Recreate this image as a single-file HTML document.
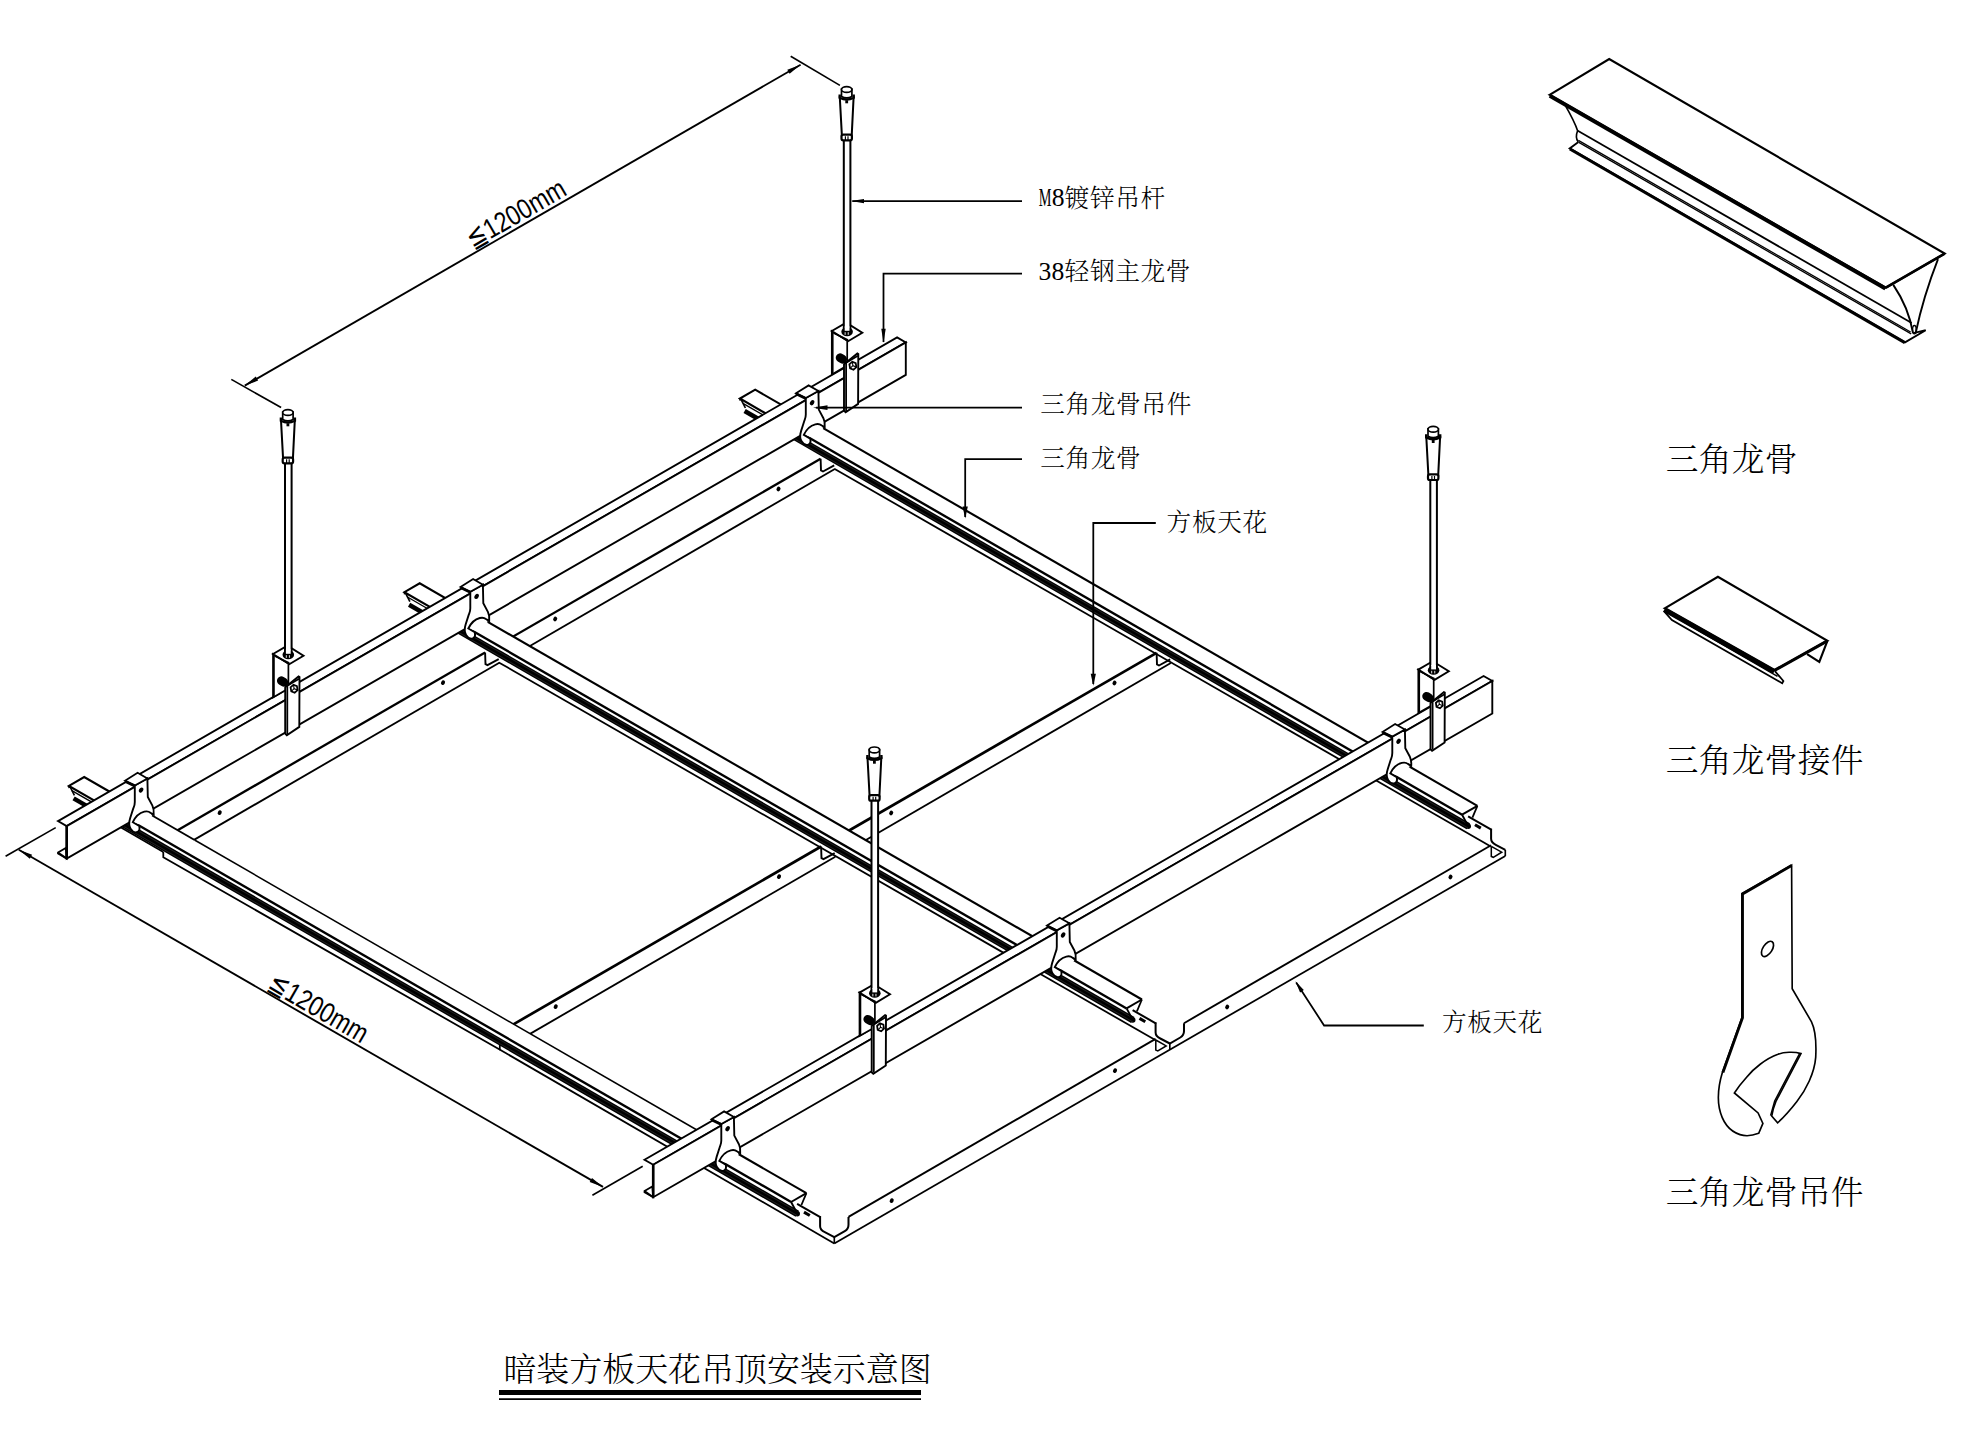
<!DOCTYPE html>
<html><head><meta charset="utf-8"><title>暗装方板天花吊顶安装示意图</title>
<style>html,body{margin:0;padding:0;background:#fff}svg{display:block}</style></head>
<body>
<svg width="1967" height="1432" viewBox="0 0 1967 1432" fill="none" stroke="#000" stroke-width="1.89" stroke-linecap="butt" stroke-linejoin="miter">
<rect x="0" y="0" width="1967" height="1432" fill="#fff" stroke="none"/>
<line x1="165.5" y1="837.2" x2="485.1" y2="652.5" stroke-width="2.3"/>
<polyline points="485.1,652.5 485.5,664.1 487.5,665.2 498.7,659.1" stroke-width="1.89"/>
<line x1="182.8" y1="846.4" x2="499.3" y2="662.7" stroke-width="1.83"/>
<ellipse cx="219.7" cy="812.7" rx="1.9" ry="2.4" transform="rotate(30 219.7 812.7)" fill="#000" stroke="none"/>
<ellipse cx="443" cy="682.7" rx="1.9" ry="2.4" transform="rotate(30 443 682.7)" fill="#000" stroke="none"/>
<line x1="501" y1="643.5" x2="820.6" y2="458.8" stroke-width="2.3"/>
<polyline points="820.6,458.8 821,470.4 823,471.5 834.2,465.4" stroke-width="1.89"/>
<line x1="518.3" y1="652.7" x2="834.8" y2="469" stroke-width="1.83"/>
<ellipse cx="555.2" cy="619" rx="1.9" ry="2.4" transform="rotate(30 555.2 619)" fill="#000" stroke="none"/>
<ellipse cx="778.5" cy="489" rx="1.9" ry="2.4" transform="rotate(30 778.5 489)" fill="#000" stroke="none"/>
<line x1="501.5" y1="1031.2" x2="821.1" y2="846.5" stroke-width="2.71"/>
<polyline points="821.1,846.5 821.5,858.1 823.5,859.2 834.7,853.1" stroke-width="1.89"/>
<line x1="518.8" y1="1040.4" x2="835.3" y2="856.7" stroke-width="1.83"/>
<ellipse cx="555.7" cy="1006.7" rx="1.9" ry="2.4" transform="rotate(30 555.7 1006.7)" fill="#000" stroke="none"/>
<ellipse cx="779" cy="876.7" rx="1.9" ry="2.4" transform="rotate(30 779 876.7)" fill="#000" stroke="none"/>
<line x1="837" y1="837.5" x2="1156.6" y2="652.8" stroke-width="2.71"/>
<polyline points="1156.6,652.8 1157,664.4 1159,665.5 1170.2,659.4" stroke-width="1.89"/>
<line x1="854.3" y1="846.7" x2="1170.8" y2="663" stroke-width="1.83"/>
<ellipse cx="891.2" cy="813" rx="1.9" ry="2.4" transform="rotate(30 891.2 813)" fill="#000" stroke="none"/>
<ellipse cx="1114.5" cy="683" rx="1.9" ry="2.4" transform="rotate(30 1114.5 683)" fill="#000" stroke="none"/>
<ellipse cx="891.7" cy="1200.7" rx="1.9" ry="2.4" transform="rotate(30 891.7 1200.7)" fill="#000" stroke="none"/>
<ellipse cx="1115" cy="1070.7" rx="1.9" ry="2.4" transform="rotate(30 1115 1070.7)" fill="#000" stroke="none"/>
<ellipse cx="1227.2" cy="1007" rx="1.9" ry="2.4" transform="rotate(30 1227.2 1007)" fill="#000" stroke="none"/>
<ellipse cx="1450.5" cy="877" rx="1.9" ry="2.4" transform="rotate(30 1450.5 877)" fill="#000" stroke="none"/>
<line x1="834.3" y1="1243.4" x2="1505.3" y2="856" stroke-width="1.77"/>
<line x1="834.3" y1="1237.2" x2="834.3" y2="1243.4" stroke-width="1.65"/>
<path d="M820.1 1216.2 L820.1 1226.2 Q820.1 1230 824.8 1232.2 L834.3 1237.2 L844.8 1231.2 Q848.5 1229 848.5 1224.7 L848.5 1216.9" stroke-width="2.01"/>
<line x1="1169.8" y1="1043.5" x2="1169.8" y2="1049.7" stroke-width="1.65"/>
<path d="M1155.6 1022.5 L1155.6 1032.5 Q1155.6 1036.3 1160.3 1038.5 L1169.8 1043.5 L1180.3 1037.5 Q1184 1035.3 1184 1031 L1184 1023.2" stroke-width="2.01"/>
<line x1="848.5" y1="1216.9" x2="1155.6" y2="1038.9" stroke-width="1.89"/>
<polyline points="1155.8,1040 1155.8,1050.1 1157.8,1051 1166.2,1045.9 1155.8,1040" stroke-width="1.53"/>
<line x1="1505.3" y1="849.8" x2="1505.3" y2="856" stroke-width="1.65"/>
<path d="M1491.1 828.8 L1491.1 838.8 Q1491.1 842.6 1495.8 844.8 L1505.3 849.8" stroke-width="2.01"/>
<line x1="1184" y1="1023.2" x2="1491.1" y2="845.2" stroke-width="1.89"/>
<polyline points="1491.3,846.3 1491.3,856.4 1493.3,857.3 1501.7,852.2 1491.3,846.3" stroke-width="1.53"/>
<polygon points="126.1,818.9 68.9,785.9 84.2,777 141.4,810 111.9,827" stroke-width="0.01" fill="#fff"/>
<line x1="69.9" y1="786.5" x2="74.4" y2="795.4" stroke-width="1.65"/>
<line x1="73.6" y1="798.4" x2="99.6" y2="813.4" stroke-width="4.48"/>
<line x1="71.9" y1="790.7" x2="106.5" y2="810.7" stroke-width="1.42"/>
<polyline points="126.1,818.9 68.9,785.9 84.2,777 141.4,810" stroke-width="2.12"/>
<line x1="68.9" y1="785.9" x2="69.2" y2="788.1" stroke-width="1.65"/>
<polygon points="123.6,799 806.4,1193.2 791.1,1202 798.6,1218.2 123.6,828.5" stroke-width="0.01" fill="#fff"/>
<line x1="112.8" y1="822.7" x2="163.3" y2="852.1" stroke-width="1.77"/>
<polyline points="163.3,852.1 163.3,857.3 499.6,1049.5" stroke-width="1.77"/>
<line x1="499.8" y1="1044.4" x2="499.8" y2="1050.3" stroke-width="1.77"/>
<line x1="499.6" y1="1049.5" x2="834.3" y2="1243.4" stroke-width="1.77"/>
<line x1="121.9" y1="823.3" x2="797.3" y2="1213.7" stroke-width="6.84"/>
<circle cx="797.3" cy="1213.7" r="2.7" fill="#000" stroke="none"/>
<line x1="121.9" y1="821.3" x2="797.3" y2="1211.7" stroke-width="0.41" stroke="#555"/>
<line x1="121.9" y1="825.3" x2="797.3" y2="1215.6" stroke-width="0.41" stroke="#555"/>
<line x1="149.6" y1="814" x2="194.6" y2="840" stroke-width="1.95"/>
<line x1="194.6" y1="840" x2="728.1" y2="1148" stroke-width="1.53"/>
<line x1="728.1" y1="1148" x2="806.4" y2="1193.2" stroke-width="2.06"/>
<line x1="132.5" y1="821.8" x2="791.1" y2="1202" stroke-width="2.36"/>
<line x1="806.4" y1="1193.2" x2="791.1" y2="1202" stroke-width="2.01"/>
<line x1="806.4" y1="1193.2" x2="801.4" y2="1205" stroke-width="1.77"/>
<line x1="791.1" y1="1202" x2="797.6" y2="1214.2" stroke-width="1.89"/>
<line x1="797.1" y1="1203.8" x2="820.7" y2="1217.3" stroke-width="2.01"/>
<line x1="804" y1="1212.1" x2="809.8" y2="1215.5" stroke-width="3.07"/>
<polygon points="461.5,625.2 404.4,592.2 419.7,583.3 476.9,616.3 447.4,633.3" stroke-width="0.01" fill="#fff"/>
<line x1="405.4" y1="592.8" x2="409.9" y2="601.7" stroke-width="1.65"/>
<line x1="409.1" y1="604.7" x2="435.1" y2="619.7" stroke-width="4.48"/>
<line x1="407.4" y1="597" x2="442" y2="617" stroke-width="1.42"/>
<polyline points="461.5,625.2 404.4,592.2 419.7,583.3 476.9,616.3" stroke-width="2.12"/>
<line x1="404.4" y1="592.2" x2="404.7" y2="594.4" stroke-width="1.65"/>
<polygon points="459.1,605.3 1141.9,999.5 1126.6,1008.4 1134.1,1024.5 459.1,634.8" stroke-width="0.01" fill="#fff"/>
<line x1="498.8" y1="662.4" x2="1155.3" y2="1040.1" stroke-width="1.77"/>
<line x1="457.4" y1="629.6" x2="1132.8" y2="1020" stroke-width="6.84"/>
<circle cx="1132.8" cy="1020" r="2.7" fill="#000" stroke="none"/>
<line x1="457.4" y1="627.6" x2="1132.8" y2="1018" stroke-width="0.41" stroke="#555"/>
<line x1="457.4" y1="631.6" x2="1132.8" y2="1021.9" stroke-width="0.41" stroke="#555"/>
<line x1="485.1" y1="620.3" x2="1141.9" y2="999.5" stroke-width="2.12"/>
<line x1="468" y1="628.2" x2="1126.6" y2="1008.4" stroke-width="2.36"/>
<line x1="1141.9" y1="999.5" x2="1126.6" y2="1008.4" stroke-width="2.01"/>
<line x1="1141.9" y1="999.5" x2="1136.9" y2="1011.3" stroke-width="1.77"/>
<line x1="1126.6" y1="1008.4" x2="1133.1" y2="1020.6" stroke-width="1.89"/>
<line x1="1132.6" y1="1010.1" x2="1156.2" y2="1023.6" stroke-width="2.01"/>
<line x1="1139.5" y1="1018.4" x2="1145.3" y2="1021.8" stroke-width="3.07"/>
<polygon points="797,431.5 739.9,398.5 755.2,389.7 812.4,422.7 782.9,439.7" stroke-width="0.01" fill="#fff"/>
<line x1="740.9" y1="399.1" x2="745.4" y2="408" stroke-width="1.65"/>
<line x1="744.6" y1="411" x2="770.6" y2="426" stroke-width="4.48"/>
<line x1="742.9" y1="403.3" x2="777.5" y2="423.3" stroke-width="1.42"/>
<polyline points="797,431.5 739.9,398.5 755.2,389.7 812.4,422.7" stroke-width="2.12"/>
<line x1="739.9" y1="398.5" x2="740.2" y2="400.7" stroke-width="1.65"/>
<polygon points="794.6,411.6 1477.4,805.8 1462.1,814.7 1469.6,830.8 794.6,441.1" stroke-width="0.01" fill="#fff"/>
<line x1="834.3" y1="468.7" x2="1490.8" y2="846.4" stroke-width="1.77"/>
<line x1="792.9" y1="435.9" x2="1468.3" y2="826.3" stroke-width="6.84"/>
<circle cx="1468.3" cy="826.3" r="2.7" fill="#000" stroke="none"/>
<line x1="792.9" y1="433.9" x2="1468.3" y2="824.3" stroke-width="0.41" stroke="#555"/>
<line x1="792.9" y1="437.9" x2="1468.3" y2="828.2" stroke-width="0.41" stroke="#555"/>
<line x1="820.6" y1="426.6" x2="1477.4" y2="805.8" stroke-width="2.12"/>
<line x1="803.5" y1="434.5" x2="1462.1" y2="814.7" stroke-width="2.36"/>
<line x1="1477.4" y1="805.8" x2="1462.1" y2="814.7" stroke-width="2.01"/>
<line x1="1477.4" y1="805.8" x2="1472.4" y2="817.6" stroke-width="1.77"/>
<line x1="1462.1" y1="814.7" x2="1468.6" y2="826.9" stroke-width="1.89"/>
<line x1="1468.1" y1="816.4" x2="1491.7" y2="829.9" stroke-width="2.01"/>
<line x1="1475" y1="824.7" x2="1480.8" y2="828.1" stroke-width="3.07"/>
<polygon points="58,852.4 65.8,847.9 66.7,858.6 58,853.6" stroke-width="1.77" fill="#fff"/>
<polygon points="58,821.1 897.1,337.4 905.8,342.4 66.7,826.1" stroke-width="1.89" fill="#fff"/>
<polygon points="66.7,826.1 905.8,342.4 905.8,374.9 66.7,858.6" stroke-width="1.89" fill="#fff"/>
<line x1="66.7" y1="826.1" x2="66.7" y2="858.6" stroke-width="2.6"/>
<line x1="58" y1="852.4" x2="66.7" y2="858.6" stroke-width="1.89"/>
<path d="M132.8 822.2 C135.3 816.9 139.3 813 144.3 811.7 C147.3 811 149.1 811.6 150.4 812.7 L152.3 815.9 L138.8 824.2 Z" fill="#fff" stroke="none"/>
<path d="M134.8 785.4 L134.8 801.9 C134.8 805.4 134 806.4 133.2 808.6 L130.2 818 C128.6 822.9 128.8 825.9 130.6 828.7 C132.4 831.6 135.4 832.8 137.4 832 C139.4 831.2 140 829.2 139.2 826 L132.8 822.2 C135.3 816.9 139.3 813 144.3 811.7 C147.3 811 149.1 811.6 150.4 812.7 L153.7 814.6 C154 810.9 153.7 808.2 152.4 805.6 L147.8 797 L147.4 778.4 Z" stroke-width="1.89" fill="#fff"/>
<polygon points="125,780.7 137.6,772.8 147.4,778.4 134.8,785.4" stroke-width="1.77" fill="#fff"/>
<line x1="125" y1="781.2" x2="134.8" y2="786" stroke-width="2.83"/>
<ellipse cx="141.1" cy="790.1" rx="2" ry="2.8" transform="rotate(30 141.1 790.1)" fill="#000" stroke="none"/>
<path d="M468.3 628.5 C470.8 623.2 474.8 619.3 479.8 618 C482.8 617.3 484.6 617.9 485.9 619 L487.8 622.2 L474.3 630.5 Z" fill="#fff" stroke="none"/>
<path d="M470.3 591.7 L470.3 608.2 C470.3 611.7 469.5 612.7 468.7 614.9 L465.7 624.3 C464.1 629.2 464.3 632.2 466.1 635 C467.9 637.9 470.9 639.1 472.9 638.3 C474.9 637.5 475.5 635.5 474.7 632.3 L468.3 628.5 C470.8 623.2 474.8 619.3 479.8 618 C482.8 617.3 484.6 617.9 485.9 619 L489.2 620.9 C489.5 617.2 489.2 614.5 487.9 611.9 L483.3 603.3 L482.9 584.7 Z" stroke-width="1.89" fill="#fff"/>
<polygon points="460.5,587 473.1,579.1 482.9,584.7 470.3,591.7" stroke-width="1.77" fill="#fff"/>
<line x1="460.5" y1="587.5" x2="470.3" y2="592.3" stroke-width="2.83"/>
<ellipse cx="476.6" cy="596.4" rx="2" ry="2.8" transform="rotate(30 476.6 596.4)" fill="#000" stroke="none"/>
<path d="M803.8 434.8 C806.3 429.5 810.3 425.6 815.3 424.3 C818.3 423.6 820.1 424.2 821.4 425.3 L823.3 428.5 L809.8 436.8 Z" fill="#fff" stroke="none"/>
<path d="M805.8 398 L805.8 414.5 C805.8 418 805 419 804.2 421.2 L801.2 430.6 C799.6 435.5 799.8 438.5 801.6 441.3 C803.4 444.2 806.4 445.4 808.4 444.6 C810.4 443.8 811 441.8 810.2 438.6 L803.8 434.8 C806.3 429.5 810.3 425.6 815.3 424.3 C818.3 423.6 820.1 424.2 821.4 425.3 L824.7 427.2 C825 423.5 824.7 420.8 823.4 418.2 L818.8 409.6 L818.4 391 Z" stroke-width="1.89" fill="#fff"/>
<polygon points="796,393.3 808.6,385.4 818.4,391 805.8,398" stroke-width="1.77" fill="#fff"/>
<line x1="796" y1="393.8" x2="805.8" y2="398.6" stroke-width="2.83"/>
<ellipse cx="812.1" cy="402.7" rx="2" ry="2.8" transform="rotate(30 812.1 402.7)" fill="#000" stroke="none"/>
<polygon points="831.8,331 847.2,340.6 847.2,365.6 831.8,374.5" stroke-width="1.71" fill="#fff"/>
<line x1="832.7" y1="332.2" x2="832.7" y2="374" stroke-width="1.77"/>
<polygon points="831.8,331 846.2,322.7 862.3,332.7 848.1,341.2" stroke-width="1.89" fill="#fff"/>
<line x1="833.5" y1="333" x2="848.1" y2="340" stroke-width="1.53"/>
<rect x="843.8" y="138.3" width="6.6" height="193.7" fill="#fff" stroke="none"/>
<line x1="843.8" y1="138.3" x2="843.8" y2="330.5" stroke-width="2.01"/>
<line x1="850.4" y1="138.3" x2="850.4" y2="330.5" stroke-width="2.01"/>
<ellipse cx="847.1" cy="331.7" rx="5.8" ry="4.5" fill="#000" stroke="none"/>
<rect x="844.7" y="326.4" width="4.8" height="4.4" fill="#fff" stroke="none"/>
<rect x="844.6" y="332.2" width="1.1" height="2.6" fill="#ccc" stroke="none"/>
<rect x="847.7" y="332.2" width="1.1" height="2.6" fill="#ccc" stroke="none"/>
<line x1="840.1" y1="357.7" x2="842.7" y2="359.3" stroke-width="8.73" stroke-linecap="round"/>
<polygon points="844,364.3 857.4,353.5 858.3,354 858.1,403.9 845.6,412.2 844,410.7" stroke-width="1.89" fill="#fff"/>
<polyline points="857.9,355.7 846.1,362.8 846.1,410.9" stroke-width="1.77"/>
<polygon points="856.4,367.1 853.5,369.7 850.1,368.3 849.4,364.3 852.3,361.7 855.7,363.1" stroke-width="1.77" fill="#fff"/>
<polyline points="856.4,367.1 852.9,365.7 850.1,368.3" stroke-width="1.06"/>
<line x1="852.9" y1="365.7" x2="852.3" y2="361.7" stroke-width="1.06"/>
<path d="M839.8 97.3 L853.6 97.3 L851.7 135.9 L841.9 135.9 Z" stroke-width="2.01" fill="#fff"/>
<path d="M839.7 94.5 L839.7 97.7 Q846.7 101.3 853.7 97.7 L853.7 94.5" fill="#fff" stroke="#000" stroke-width="2.4"/>
<rect x="845.3" y="100.3" width="2.8" height="3" fill="#000" stroke="none"/>
<path d="M841.5 89.2 L841.5 96.5 Q846.7 99.3 851.9 96.5 L851.9 89.2 Z" fill="#fff" stroke="#000" stroke-width="1.7"/>
<ellipse cx="846.7" cy="89.5" rx="5.2" ry="2.9" fill="#fff" stroke="#000" stroke-width="1.7"/>
<rect x="841.5" y="134.7" width="10.4" height="5.6" rx="1.8" fill="#fff" stroke="#000" stroke-width="2.2"/>
<line x1="845.4" y1="136.3" x2="845.4" y2="140.3" stroke-width="1.18"/>
<line x1="848" y1="136.3" x2="848" y2="140.3" stroke-width="1.18"/>
<polygon points="273,654 288.4,663.6 288.4,688.6 273,697.5" stroke-width="1.71" fill="#fff"/>
<line x1="273.9" y1="655.2" x2="273.9" y2="697" stroke-width="1.77"/>
<polygon points="273,654 287.4,645.7 303.5,655.7 289.3,664.2" stroke-width="1.89" fill="#fff"/>
<line x1="274.7" y1="656" x2="289.3" y2="663" stroke-width="1.53"/>
<rect x="285" y="461.3" width="6.6" height="193.7" fill="#fff" stroke="none"/>
<line x1="285" y1="461.3" x2="285" y2="653.5" stroke-width="2.01"/>
<line x1="291.6" y1="461.3" x2="291.6" y2="653.5" stroke-width="2.01"/>
<ellipse cx="288.3" cy="654.7" rx="5.8" ry="4.5" fill="#000" stroke="none"/>
<rect x="285.9" y="649.4" width="4.8" height="4.4" fill="#fff" stroke="none"/>
<rect x="285.8" y="655.2" width="1.1" height="2.6" fill="#ccc" stroke="none"/>
<rect x="288.9" y="655.2" width="1.1" height="2.6" fill="#ccc" stroke="none"/>
<line x1="281.3" y1="680.7" x2="283.9" y2="682.3" stroke-width="8.73" stroke-linecap="round"/>
<polygon points="285.2,687.3 298.6,676.5 299.5,677 299.3,726.9 286.8,735.2 285.2,733.7" stroke-width="1.89" fill="#fff"/>
<polyline points="299.1,678.7 287.3,685.8 287.3,733.9" stroke-width="1.77"/>
<polygon points="297.6,690.1 294.7,692.7 291.3,691.3 290.6,687.3 293.5,684.7 296.9,686.1" stroke-width="1.77" fill="#fff"/>
<polyline points="297.6,690.1 294.1,688.7 291.3,691.3" stroke-width="1.06"/>
<line x1="294.1" y1="688.7" x2="293.5" y2="684.7" stroke-width="1.06"/>
<path d="M281 420.3 L294.8 420.3 L292.9 458.9 L283.1 458.9 Z" stroke-width="2.01" fill="#fff"/>
<path d="M280.9 417.5 L280.9 420.7 Q287.9 424.3 294.9 420.7 L294.9 417.5" fill="#fff" stroke="#000" stroke-width="2.4"/>
<rect x="286.5" y="423.3" width="2.8" height="3" fill="#000" stroke="none"/>
<path d="M282.7 412.2 L282.7 419.5 Q287.9 422.3 293.1 419.5 L293.1 412.2 Z" fill="#fff" stroke="#000" stroke-width="1.7"/>
<ellipse cx="287.9" cy="412.5" rx="5.2" ry="2.9" fill="#fff" stroke="#000" stroke-width="1.7"/>
<rect x="282.7" y="457.7" width="10.4" height="5.6" rx="1.8" fill="#fff" stroke="#000" stroke-width="2.2"/>
<line x1="286.6" y1="459.3" x2="286.6" y2="463.3" stroke-width="1.18"/>
<line x1="289.2" y1="459.3" x2="289.2" y2="463.3" stroke-width="1.18"/>
<polygon points="644.5,1191 652.3,1186.5 653.2,1197.2 644.5,1192.2" stroke-width="1.77" fill="#fff"/>
<polygon points="644.5,1159.7 1483.6,676 1492.3,681 653.2,1164.7" stroke-width="1.89" fill="#fff"/>
<polygon points="653.2,1164.7 1492.3,681 1492.3,713.5 653.2,1197.2" stroke-width="1.89" fill="#fff"/>
<line x1="653.2" y1="1164.7" x2="653.2" y2="1197.2" stroke-width="2.6"/>
<line x1="644.5" y1="1191" x2="653.2" y2="1197.2" stroke-width="1.89"/>
<path d="M719.3 1160.8 C721.8 1155.5 725.8 1151.6 730.8 1150.3 C733.8 1149.6 735.6 1150.2 736.9 1151.3 L738.8 1154.5 L725.3 1162.8 Z" fill="#fff" stroke="none"/>
<path d="M721.3 1124 L721.3 1140.5 C721.3 1144 720.5 1145 719.7 1147.2 L716.7 1156.6 C715.1 1161.5 715.3 1164.5 717.1 1167.3 C718.9 1170.2 721.9 1171.4 723.9 1170.6 C725.9 1169.8 726.5 1167.8 725.7 1164.6 L719.3 1160.8 C721.8 1155.5 725.8 1151.6 730.8 1150.3 C733.8 1149.6 735.6 1150.2 736.9 1151.3 L740.2 1153.2 C740.5 1149.5 740.2 1146.8 738.9 1144.2 L734.3 1135.6 L733.9 1117 Z" stroke-width="1.89" fill="#fff"/>
<polygon points="711.5,1119.3 724.1,1111.4 733.9,1117 721.3,1124" stroke-width="1.77" fill="#fff"/>
<line x1="711.5" y1="1119.8" x2="721.3" y2="1124.6" stroke-width="2.83"/>
<ellipse cx="727.6" cy="1128.7" rx="2" ry="2.8" transform="rotate(30 727.6 1128.7)" fill="#000" stroke="none"/>
<path d="M1054.8 967.1 C1057.3 961.8 1061.3 957.9 1066.3 956.6 C1069.3 955.9 1071.1 956.5 1072.4 957.6 L1074.3 960.8 L1060.8 969.1 Z" fill="#fff" stroke="none"/>
<path d="M1056.8 930.3 L1056.8 946.8 C1056.8 950.3 1056 951.3 1055.2 953.5 L1052.2 962.9 C1050.6 967.8 1050.8 970.8 1052.6 973.6 C1054.4 976.5 1057.4 977.7 1059.4 976.9 C1061.4 976.1 1062 974.1 1061.2 970.9 L1054.8 967.1 C1057.3 961.8 1061.3 957.9 1066.3 956.6 C1069.3 955.9 1071.1 956.5 1072.4 957.6 L1075.7 959.5 C1076 955.8 1075.7 953.1 1074.4 950.5 L1069.8 941.9 L1069.4 923.3 Z" stroke-width="1.89" fill="#fff"/>
<polygon points="1047,925.6 1059.6,917.7 1069.4,923.3 1056.8,930.3" stroke-width="1.77" fill="#fff"/>
<line x1="1047" y1="926.1" x2="1056.8" y2="930.9" stroke-width="2.83"/>
<ellipse cx="1063.1" cy="935" rx="2" ry="2.8" transform="rotate(30 1063.1 935)" fill="#000" stroke="none"/>
<path d="M1390.3 773.4 C1392.8 768.1 1396.8 764.2 1401.8 762.9 C1404.8 762.2 1406.6 762.8 1407.9 763.9 L1409.8 767.1 L1396.3 775.4 Z" fill="#fff" stroke="none"/>
<path d="M1392.3 736.6 L1392.3 753.1 C1392.3 756.6 1391.5 757.6 1390.7 759.8 L1387.7 769.2 C1386.1 774.1 1386.3 777.1 1388.1 779.9 C1389.9 782.8 1392.9 784 1394.9 783.2 C1396.9 782.4 1397.5 780.4 1396.7 777.2 L1390.3 773.4 C1392.8 768.1 1396.8 764.2 1401.8 762.9 C1404.8 762.2 1406.6 762.8 1407.9 763.9 L1411.2 765.8 C1411.5 762.1 1411.2 759.4 1409.9 756.8 L1405.3 748.2 L1404.9 729.6 Z" stroke-width="1.89" fill="#fff"/>
<polygon points="1382.5,731.9 1395.1,724 1404.9,729.6 1392.3,736.6" stroke-width="1.77" fill="#fff"/>
<line x1="1382.5" y1="732.4" x2="1392.3" y2="737.2" stroke-width="2.83"/>
<ellipse cx="1398.6" cy="741.3" rx="2" ry="2.8" transform="rotate(30 1398.6 741.3)" fill="#000" stroke="none"/>
<polygon points="1418.3,669.6 1433.7,679.2 1433.7,704.2 1418.3,713.1" stroke-width="1.71" fill="#fff"/>
<line x1="1419.2" y1="670.8" x2="1419.2" y2="712.6" stroke-width="1.77"/>
<polygon points="1418.3,669.6 1432.7,661.3 1448.8,671.3 1434.6,679.8" stroke-width="1.89" fill="#fff"/>
<line x1="1420" y1="671.6" x2="1434.6" y2="678.6" stroke-width="1.53"/>
<rect x="1430.3" y="478" width="6.6" height="192.6" fill="#fff" stroke="none"/>
<line x1="1430.3" y1="478" x2="1430.3" y2="669.1" stroke-width="2.01"/>
<line x1="1436.9" y1="478" x2="1436.9" y2="669.1" stroke-width="2.01"/>
<ellipse cx="1433.6" cy="670.3" rx="5.8" ry="4.5" fill="#000" stroke="none"/>
<rect x="1431.2" y="665" width="4.8" height="4.4" fill="#fff" stroke="none"/>
<rect x="1431.1" y="670.8" width="1.1" height="2.6" fill="#ccc" stroke="none"/>
<rect x="1434.2" y="670.8" width="1.1" height="2.6" fill="#ccc" stroke="none"/>
<line x1="1426.6" y1="696.3" x2="1429.2" y2="697.9" stroke-width="8.73" stroke-linecap="round"/>
<polygon points="1430.5,702.9 1443.9,692.1 1444.8,692.6 1444.6,742.5 1432.1,750.8 1430.5,749.3" stroke-width="1.89" fill="#fff"/>
<polyline points="1444.4,694.3 1432.6,701.4 1432.6,749.5" stroke-width="1.77"/>
<polygon points="1442.8,705.7 1440,708.3 1436.5,706.9 1435.9,702.9 1438.7,700.3 1442.2,701.7" stroke-width="1.77" fill="#fff"/>
<polyline points="1442.8,705.7 1439.4,704.3 1436.5,706.9" stroke-width="1.06"/>
<line x1="1439.4" y1="704.3" x2="1438.7" y2="700.3" stroke-width="1.06"/>
<path d="M1426.3 437 L1440.1 437 L1438.2 475.6 L1428.4 475.6 Z" stroke-width="2.01" fill="#fff"/>
<path d="M1426.2 434.2 L1426.2 437.4 Q1433.2 441 1440.2 437.4 L1440.2 434.2" fill="#fff" stroke="#000" stroke-width="2.4"/>
<rect x="1431.8" y="440" width="2.8" height="3" fill="#000" stroke="none"/>
<path d="M1428 428.9 L1428 436.2 Q1433.2 439 1438.4 436.2 L1438.4 428.9 Z" fill="#fff" stroke="#000" stroke-width="1.7"/>
<ellipse cx="1433.2" cy="429.2" rx="5.2" ry="2.9" fill="#fff" stroke="#000" stroke-width="1.7"/>
<rect x="1428" y="474.4" width="10.4" height="5.6" rx="1.8" fill="#fff" stroke="#000" stroke-width="2.2"/>
<line x1="1431.9" y1="476" x2="1431.9" y2="480" stroke-width="1.18"/>
<line x1="1434.5" y1="476" x2="1434.5" y2="480" stroke-width="1.18"/>
<polygon points="859.5,992.6 874.9,1002.2 874.9,1027.2 859.5,1036.1" stroke-width="1.71" fill="#fff"/>
<line x1="860.4" y1="993.8" x2="860.4" y2="1035.6" stroke-width="1.77"/>
<polygon points="859.5,992.6 873.9,984.3 890,994.3 875.8,1002.8" stroke-width="1.89" fill="#fff"/>
<line x1="861.2" y1="994.6" x2="875.8" y2="1001.6" stroke-width="1.53"/>
<rect x="871.5" y="798.7" width="6.6" height="194.9" fill="#fff" stroke="none"/>
<line x1="871.5" y1="798.7" x2="871.5" y2="992.1" stroke-width="2.01"/>
<line x1="878.1" y1="798.7" x2="878.1" y2="992.1" stroke-width="2.01"/>
<ellipse cx="874.8" cy="993.3" rx="5.8" ry="4.5" fill="#000" stroke="none"/>
<rect x="872.4" y="988" width="4.8" height="4.4" fill="#fff" stroke="none"/>
<rect x="872.3" y="993.8" width="1.1" height="2.6" fill="#ccc" stroke="none"/>
<rect x="875.4" y="993.8" width="1.1" height="2.6" fill="#ccc" stroke="none"/>
<line x1="867.8" y1="1019.3" x2="870.4" y2="1020.9" stroke-width="8.73" stroke-linecap="round"/>
<polygon points="871.7,1025.9 885.1,1015.1 886,1015.6 885.8,1065.5 873.3,1073.8 871.7,1072.3" stroke-width="1.89" fill="#fff"/>
<polyline points="885.6,1017.3 873.8,1024.4 873.8,1072.5" stroke-width="1.77"/>
<polygon points="884,1028.7 881.2,1031.3 877.7,1029.9 877.1,1025.9 879.9,1023.3 883.4,1024.7" stroke-width="1.77" fill="#fff"/>
<polyline points="884,1028.7 880.6,1027.3 877.7,1029.9" stroke-width="1.06"/>
<line x1="880.6" y1="1027.3" x2="879.9" y2="1023.3" stroke-width="1.06"/>
<path d="M867.5 757.7 L881.3 757.7 L879.4 796.3 L869.6 796.3 Z" stroke-width="2.01" fill="#fff"/>
<path d="M867.4 754.9 L867.4 758.1 Q874.4 761.7 881.4 758.1 L881.4 754.9" fill="#fff" stroke="#000" stroke-width="2.4"/>
<rect x="873" y="760.7" width="2.8" height="3" fill="#000" stroke="none"/>
<path d="M869.2 749.6 L869.2 756.9 Q874.4 759.7 879.6 756.9 L879.6 749.6 Z" fill="#fff" stroke="#000" stroke-width="1.7"/>
<ellipse cx="874.4" cy="749.9" rx="5.2" ry="2.9" fill="#fff" stroke="#000" stroke-width="1.7"/>
<rect x="869.2" y="795.1" width="10.4" height="5.6" rx="1.8" fill="#fff" stroke="#000" stroke-width="2.2"/>
<line x1="873.1" y1="796.7" x2="873.1" y2="800.7" stroke-width="1.18"/>
<line x1="875.7" y1="796.7" x2="875.7" y2="800.7" stroke-width="1.18"/>
<line x1="244.8" y1="385.6" x2="800.6" y2="64.7" stroke-width="1.89"/>
<polygon points="244.8,385.6 255.8,376.6 258.1,380.6" fill="#000" stroke="none"/>
<polygon points="800.6,64.7 789.6,73.7 787.3,69.7" fill="#000" stroke="none"/>
<line x1="231.3" y1="379.4" x2="281.1" y2="407.5" stroke-width="1.65"/>
<line x1="790.7" y1="56.2" x2="839.9" y2="85.4" stroke-width="1.65"/>
<line x1="18.8" y1="849.8" x2="603" y2="1186.9" stroke-width="1.89"/>
<polygon points="18.8,849.8 32.1,854.8 29.8,858.8" fill="#000" stroke="none"/>
<polygon points="603,1186.9 589.7,1181.9 592,1177.9" fill="#000" stroke="none"/>
<line x1="5.6" y1="856.3" x2="55.7" y2="827.6" stroke-width="1.65"/>
<line x1="592.4" y1="1195.2" x2="642.7" y2="1166.3" stroke-width="1.65"/>
<line x1="852.3" y1="201.1" x2="1022" y2="201.1" stroke-width="1.77"/>
<polygon points="851,201.1 864,198.9 864,203.3" fill="#000" stroke="none"/>
<polyline points="1022,273.7 883.5,273.7 883.5,342" stroke-width="1.77"/>
<polygon points="883.5,342.8 881.3,328.8 885.7,328.8" fill="#000" stroke="none"/>
<line x1="816" y1="407.7" x2="1022" y2="407.7" stroke-width="1.77"/>
<polygon points="813,407.7 827.5,405.3 827.5,410.1" fill="#000" stroke="none"/>
<polyline points="1022,459.2 965.2,459.2 965.2,517" stroke-width="1.77"/>
<polygon points="965.2,518.6 962.6,506.6 967.8,506.6" fill="#000" stroke="none"/>
<polyline points="1155.8,523 1093.3,523 1093.3,684" stroke-width="1.77"/>
<polygon points="1093.3,685.8 1090.7,673.8 1095.9,673.8" fill="#000" stroke="none"/>
<polyline points="1296.2,982.4 1324.1,1025.5 1423.8,1025.5" stroke-width="1.77"/>
<polygon points="1295.4,981.2 1303.8,990.1 1300.1,992.5" fill="#000" stroke="none"/>
<text y="206.6" fill="#000" stroke="none" font-family="'Liberation Serif','Noto Serif CJK SC',serif"><tspan x="1038.8" dy="-0.2" font-size="25.6" font-family="'Liberation Serif',serif" textLength="12.7" lengthAdjust="spacingAndGlyphs">M</tspan><tspan x="1051.7" font-size="25.6" font-family="'Liberation Serif',serif">8</tspan><tspan x="1064.6" dy="0.2" font-size="24.7" font-weight="300" letter-spacing="0.6">镀锌吊杆</tspan></text>
<text y="280.3" fill="#000" stroke="none" font-family="'Liberation Serif','Noto Serif CJK SC',serif"><tspan x="1038.6" dy="-0.2" font-size="25.6" font-family="'Liberation Serif',serif" letter-spacing="0.2">38</tspan><tspan x="1064.6" dy="0.2" font-size="24.7" font-weight="300" letter-spacing="0.6">轻钢主龙骨</tspan></text>
<text x="1040.2" y="413" font-size="24.7" font-weight="300" letter-spacing="0.6" font-family="'Liberation Serif','Noto Serif CJK SC',serif" fill="#000" stroke="none">三角龙骨吊件</text>
<text x="1040.2" y="466.7" font-size="24.7" font-weight="300" letter-spacing="0.6" font-family="'Liberation Serif','Noto Serif CJK SC',serif" fill="#000" stroke="none">三角龙骨</text>
<text x="1166.6" y="530.5" font-size="24.7" font-weight="300" letter-spacing="0.6" font-family="'Liberation Serif','Noto Serif CJK SC',serif" fill="#000" stroke="none">方板天花</text>
<text x="1442" y="1031.3" font-size="24.7" font-weight="300" letter-spacing="0.6" font-family="'Liberation Serif','Noto Serif CJK SC',serif" fill="#000" stroke="none">方板天花</text>
<text x="1665.8" y="470.6" font-size="32.7" font-weight="300" letter-spacing="0.3" font-family="'Liberation Serif','Noto Serif CJK SC',serif" fill="#000" stroke="none">三角龙骨</text>
<text x="1665.8" y="771.7" font-size="32.7" font-weight="300" letter-spacing="0.3" font-family="'Liberation Serif','Noto Serif CJK SC',serif" fill="#000" stroke="none">三角龙骨接件</text>
<text x="1665.8" y="1204.2" font-size="32.7" font-weight="300" letter-spacing="0.3" font-family="'Liberation Serif','Noto Serif CJK SC',serif" fill="#000" stroke="none">三角龙骨吊件</text>
<text x="503.4" y="1380.9" font-size="32.95" font-weight="300" letter-spacing="0" font-family="'Liberation Serif','Noto Serif CJK SC',serif" fill="#000" stroke="none">暗装方板天花吊顶安装示意图</text>
<line x1="499" y1="1392.6" x2="921" y2="1392.6" stroke-width="4.96"/>
<line x1="499" y1="1399.2" x2="921" y2="1399.2" stroke-width="1.77"/>
<text transform="translate(568.4 194.3) rotate(-30) scale(0.832 1)" text-anchor="end" font-size="28" font-family="'Liberation Sans','DejaVu Sans',sans-serif" fill="#000" stroke="none"><tspan font-family="'DejaVu Sans',sans-serif">≦</tspan>1200mm</text>
<text transform="translate(361.5 1043.6) rotate(30) scale(0.832 1)" text-anchor="end" font-size="28" font-family="'Liberation Sans','DejaVu Sans',sans-serif" fill="#000" stroke="none"><tspan font-family="'DejaVu Sans',sans-serif">≦</tspan>1200mm</text>
<polyline points="1578.1,142.3 1569.7,148.4 1905,342.4 1925.7,330.2 1913.3,333.2" stroke-width="1.89"/>
<line x1="1569.9" y1="149" x2="1904.8" y2="342.7" stroke-width="3.07"/>
<line x1="1577.8" y1="130.8" x2="1911.7" y2="322.9" stroke-width="1.77"/>
<line x1="1578.4" y1="140.4" x2="1910.6" y2="332" stroke-width="1.3"/>
<line x1="1578.4" y1="142.1" x2="1911.2" y2="333.9" stroke-width="1.3"/>
<path d="M1564.7 104.3 C1569.6 112.8 1575.1 122.8 1577.6 130.8 C1575.6 135.8 1576.6 139.8 1578.2 142" stroke-width="1.65"/>
<path d="M1893.3 284.9 C1903.3 299.7 1910.3 316.7 1913 333.2" stroke-width="1.89"/>
<path d="M1938 259.2 C1928.8 282.7 1920.8 308.7 1915.6 333.2" stroke-width="1.89"/>
<ellipse cx="1914.4" cy="329.7" rx="1.8" ry="4.2" stroke-width="1.3"/>
<polygon points="1549.6,94.8 1609.2,59 1944.7,253.6 1885.8,287.7" stroke-width="2.12" fill="#fff"/>
<line x1="1549.8" y1="95.7" x2="1885.4" y2="288.6" stroke-width="4.01"/>
<line x1="1885.8" y1="287.7" x2="1944.7" y2="253.6" stroke-width="2.6"/>
<polyline points="1663.7,610.8 1671.9,620 1782.2,683.2 1783.4,681 1774.9,671.1" stroke-width="1.77"/>
<line x1="1668" y1="613" x2="1777.5" y2="676.3" stroke-width="1.42"/>
<polyline points="1827.4,640.8 1819.3,661.9 1807.1,654.2" stroke-width="2.12"/>
<polygon points="1664.7,608.3 1717.9,576.8 1827.4,640.8 1774.6,670.3" stroke-width="2.12" fill="#fff"/>
<line x1="1664.4" y1="609.5" x2="1774.3" y2="671.5" stroke-width="4.96"/>
<line x1="1774.6" y1="670.3" x2="1827.4" y2="640.8" stroke-width="3.07"/>
<path d="M1742 893.6 L1791.6 865.1 L1792.2 988.7 L1811.5 1021.8 C1815.5 1030 1816.6 1040 1815.7 1057.4 C1814.5 1073 1806 1090 1796.9 1101.4 C1791 1109 1784 1117 1777.6 1122.8 L1771.7 1116.1 C1772.5 1111 1774 1106 1775.9 1101.4 L1801 1053.6 C1794 1051.4 1784 1052 1778 1054.3 C1766 1058.5 1753 1069 1746.6 1077.3 C1741 1083.5 1737 1089 1734.4 1093 L1758.1 1112.9 L1762.9 1123.4 L1758.7 1133.3 C1753 1135.5 1746 1136.6 1740 1134.6 C1729 1131 1722 1121 1719.3 1108 C1717 1096 1719.5 1082 1722.5 1072.1 L1742 1017.6 Z" stroke-width="1.65"/>
<polyline points="1722.9,1072.6 1742.5,1017.8 1742.5,893.9 1791.6,865.6" stroke-width="2.83"/>
<polyline points="1799.6,1053.6 1774.7,1101 1770.6,1115.6" stroke-width="1.53"/>
<ellipse cx="1767.5" cy="948.9" rx="4.6" ry="8.6" transform="rotate(33 1767.5 948.9)" stroke-width="1.7"/>
</svg>
</body></html>
